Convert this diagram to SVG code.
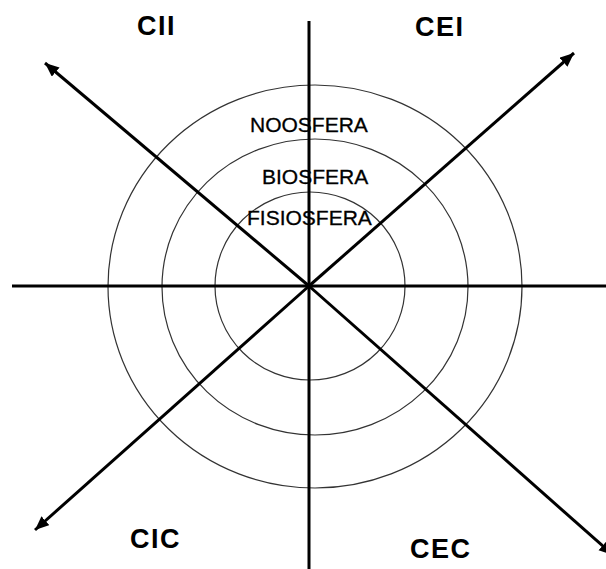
<svg xmlns="http://www.w3.org/2000/svg" width="606" height="569" viewBox="0 0 606 569">
<style>
.ring{fill:none;stroke:#333;stroke-width:1.2}
.ax{stroke:#000;stroke-width:3;fill:none}
.big{font-family:"Liberation Sans",Arial,sans-serif;font-size:27px;font-weight:bold;letter-spacing:1.5px;fill:#000}
.sm{font-family:"Liberation Sans",Arial,sans-serif;font-size:21px;fill:#000;stroke:#000;stroke-width:0.3}
</style>
<defs>
<marker id="ah" markerUnits="userSpaceOnUse" markerWidth="15" markerHeight="13" refX="14" refY="6" orient="auto">
<path d="M0,0 L14,6 L0,12 Z" fill="#000"/>
</marker>
</defs>
<rect width="606" height="569" fill="#fff"/>
<g id="noosfera">
<ellipse class="ring" cx="315" cy="286.5" rx="207" ry="201.5"/>
<text class="sm" x="250" y="132">NOOSFERA</text>
</g>
<g id="biosfera">
<ellipse class="ring" cx="315" cy="287" rx="153" ry="148"/>
<text class="sm" x="262" y="184">BIOSFERA</text>
</g>
<g id="fisiosfera">
<ellipse class="ring" cx="310" cy="286" rx="95" ry="94"/>
<text class="sm" x="247" y="225">FISIOSFERA</text>
</g>
<g id="connectors">
<line class="ax" x1="309" y1="21" x2="309" y2="569"/>
<line class="ax" x1="12" y1="286" x2="606" y2="286"/>
<line class="ax" x1="309" y1="286" x2="45" y2="63" marker-end="url(#ah)"/>
<line class="ax" x1="309" y1="286" x2="574" y2="53" marker-end="url(#ah)"/>
<line class="ax" x1="309" y1="286" x2="35" y2="530" marker-end="url(#ah)"/>
<line class="ax" x1="309" y1="286" x2="613" y2="555" marker-end="url(#ah)"/>
</g>
<g id="cii"><text class="big" x="137" y="35">CII</text></g>
<g id="cei"><text class="big" x="415" y="36">CEI</text></g>
<g id="cic"><text class="big" x="130" y="548">CIC</text></g>
<g id="cec"><text class="big" x="410" y="558">CEC</text></g>
</svg>
